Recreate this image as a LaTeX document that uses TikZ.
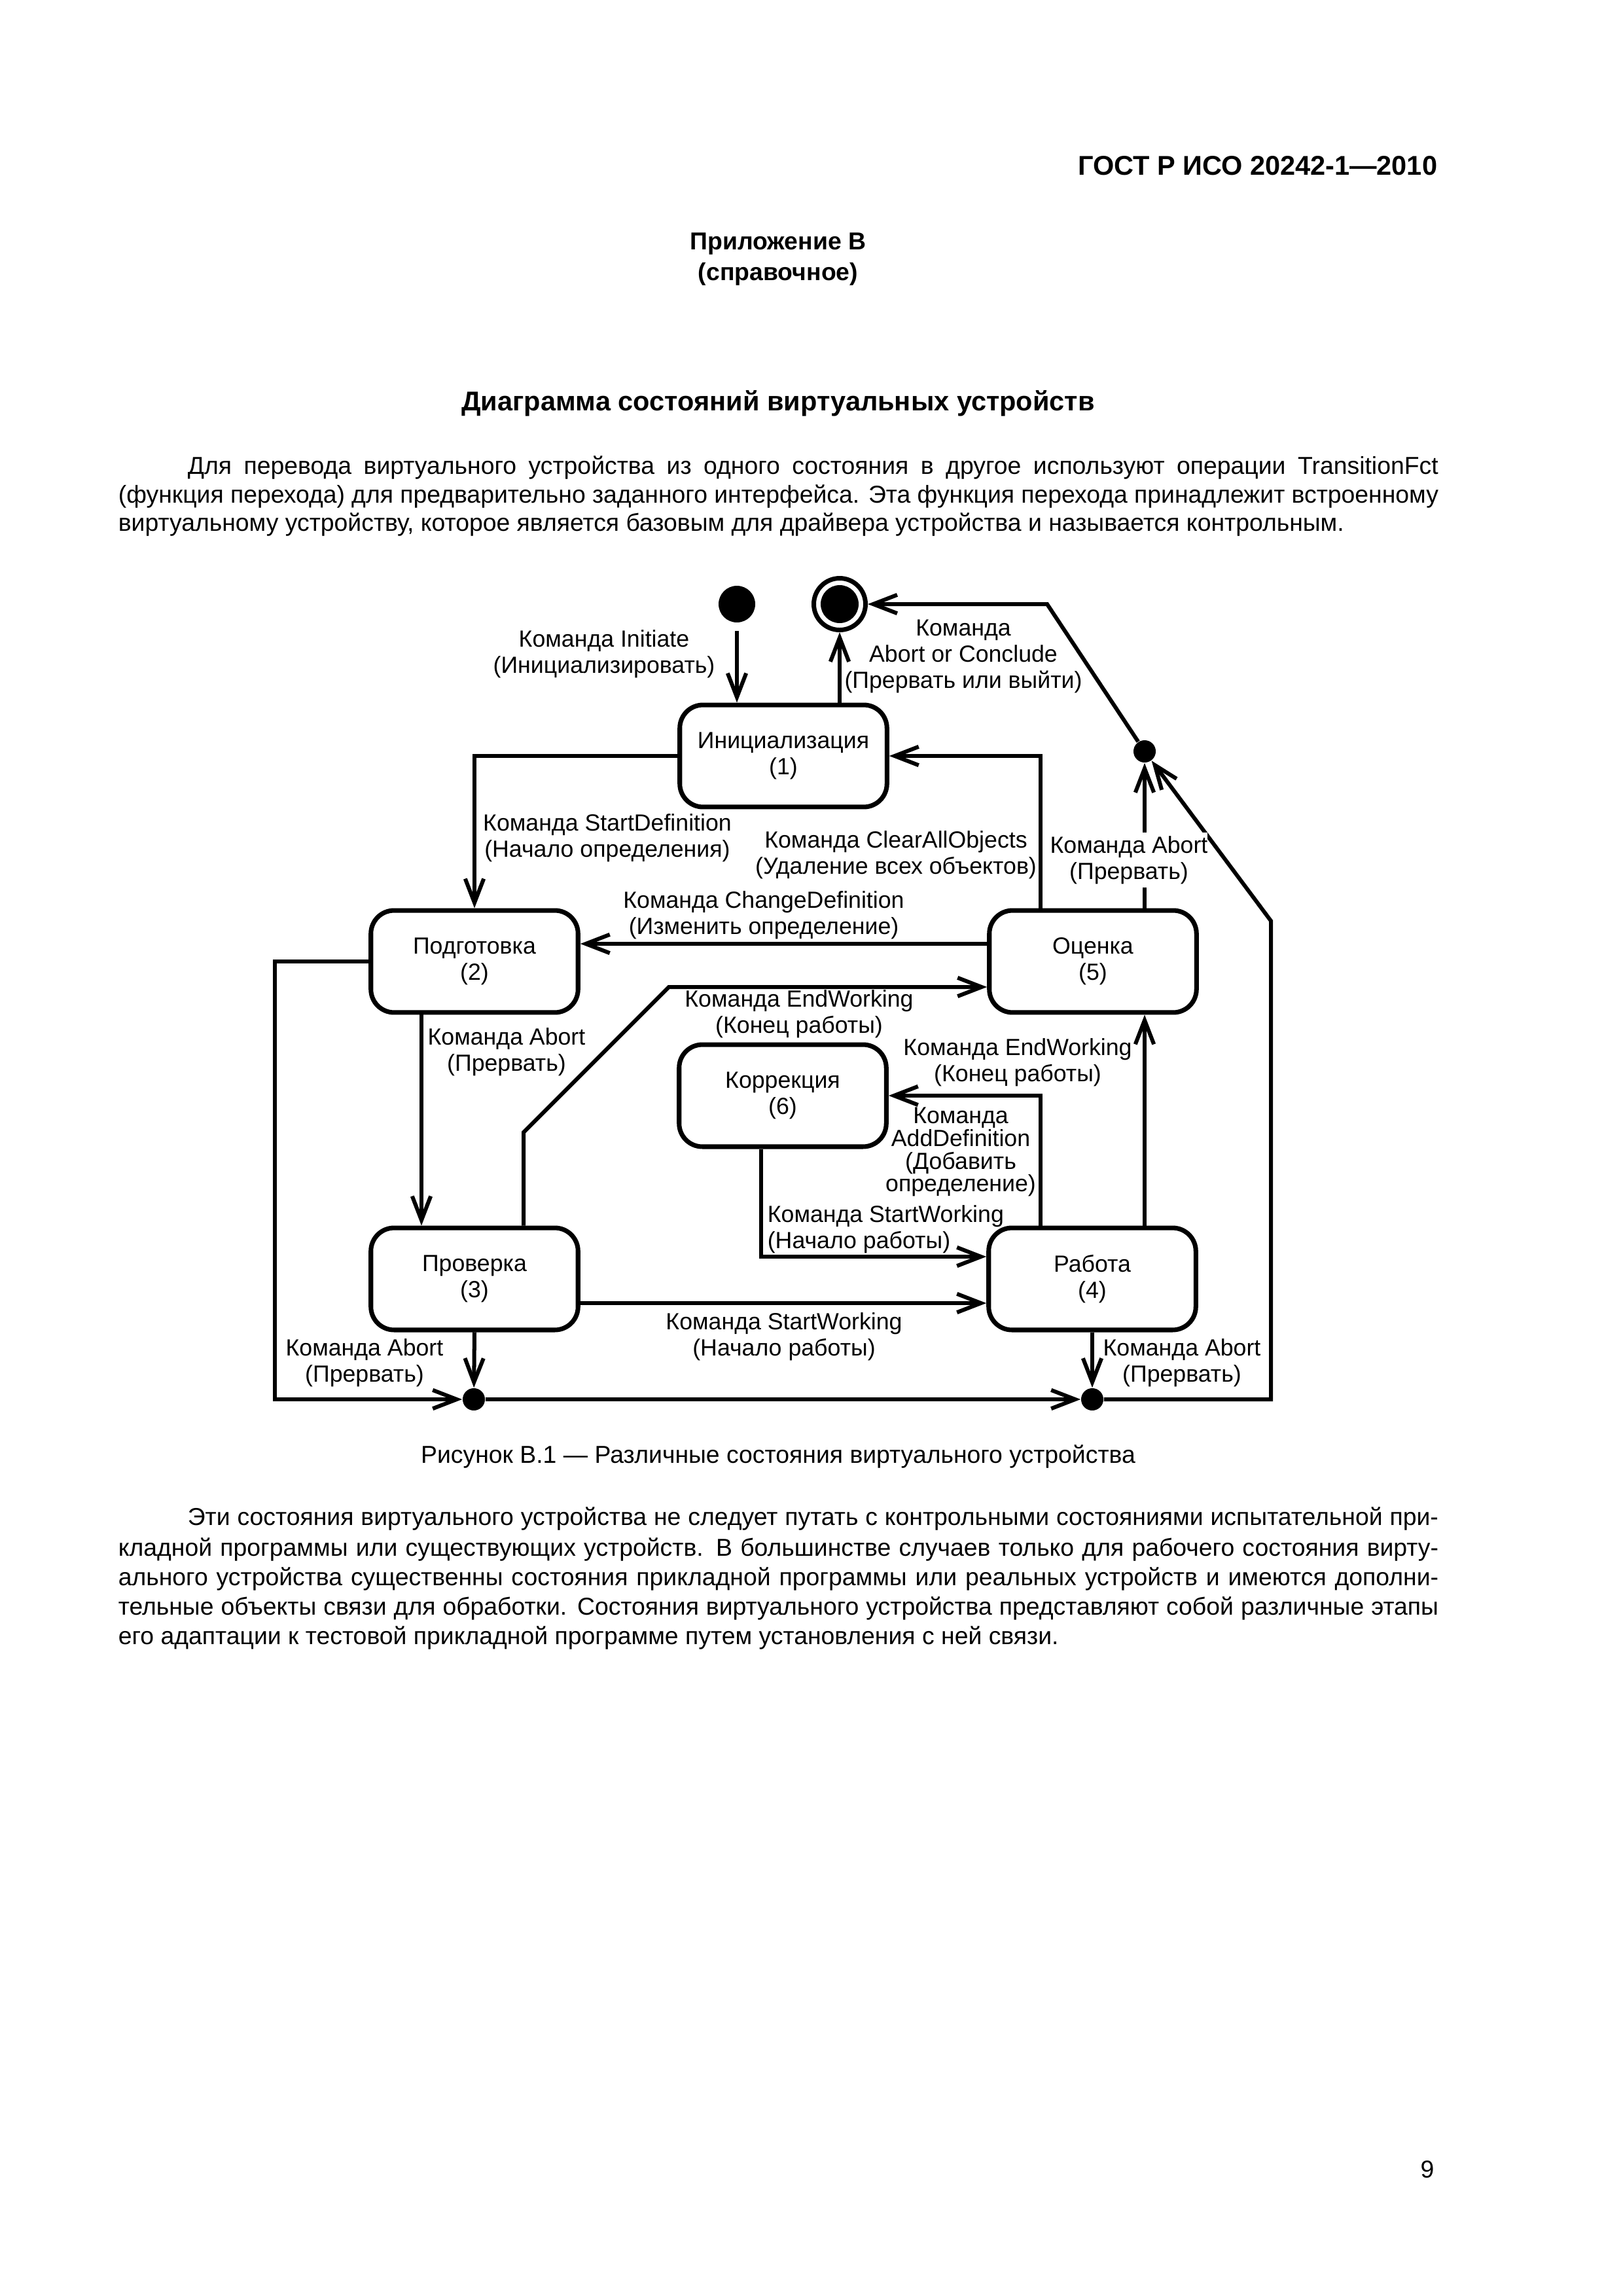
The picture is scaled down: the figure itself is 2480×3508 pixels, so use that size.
\documentclass[tikz,border=0pt]{standalone}
\usepackage{fontspec}
\setmainfont{Liberation Sans}
\usetikzlibrary{arrows.meta}
\newcommand\labfont{\fontsize{8.6}{9.6}\selectfont}
\newcommand\bodyfont{\fontsize{9}{11}\selectfont}
\tikzset{
  statebox/.style={draw, line width=1.7pt, rounded corners=3mm, minimum width=26.8mm, minimum height=13.2mm, align=center, inner sep=0pt, font=\labfont},
  conn/.style={line width=1.45pt, -{Straight Barb[length=3.1mm,width=2.4mm]}},
  lbl/.style={align=center, inner sep=0pt, font=\labfont},
  jdot/.style={circle, fill, inner sep=0pt, minimum size=2.88mm},
  txt/.style={anchor=west, inner sep=0pt, font=\bodyfont},
}
\begin{document}
\begin{tikzpicture}[x=0.0846774mm,y=-0.0846774mm]
\fill[white] (0,0) rectangle (2480,3508);
\useasboundingbox (0,0) rectangle (2480,3508);

% page texts
\node[anchor=east, inner sep=0pt, font=\bfseries\fontsize{10}{12}\selectfont] (hdr) at (2197,253) {ГОСТ Р ИСО 20242-1—2010};
\node[inner sep=0pt, font=\bfseries\bodyfont] (app1) at (1189,373) {Приложение В};
\node[inner sep=0pt, font=\bfseries\bodyfont] (app2) at (1189,419) {(справочное)};
\node[inner sep=0pt, font=\bfseries\fontsize{10}{12}\selectfont] (ttl) at (1189,616) {Диаграмма состояний виртуальных устройств};

\node[txt] (p1a) at (286,715) {\makebox[161.8mm][s]{Для перевода виртуального устройства из одного состояния в другое используют операции TransitionFct}};
\node[txt] (p1b) at (180,759) {\makebox[170.8mm][s]{(функция перехода) для предварительно заданного интерфейса. Эта функция перехода принадлежит встроенному}};
\node[txt] (p1c) at (180,802) {виртуальному устройству, которое является базовым для драйвера устройства и называется контрольным.};

\node[inner sep=0pt, font=\bodyfont] (cap) at (1189,2225) {Рисунок В.1 — Различные состояния виртуального устройства};

\node[txt] (p2a) at (286,2320) {\makebox[161.8mm][s]{Эти состояния виртуального устройства не следует путать с контрольными состояниями испытательной при-}};
\node[txt] (p2b) at (180,2367) {\makebox[170.8mm][s]{кладной программы или существующих устройств. В большинстве случаев только для рабочего состояния вирту-}};
\node[txt] (p2c) at (180,2412) {\makebox[170.8mm][s]{ального устройства существенны состояния прикладной программы или реальных устройств и имеются дополни-}};
\node[txt] (p2d) at (180,2457) {\makebox[170.8mm][s]{тельные объекты связи для обработки. Состояния виртуального устройства представляют собой различные этапы}};
\node[txt] (p2e) at (180,2502) {его адаптации к тестовой прикладной программе путем установления с ней связи.};

\node[inner sep=0pt, font=\bodyfont] (pnum) at (2181,3315) {9};

% states
\node[statebox] (b1) at (1197,1155) {Инициализация\\(1)};
\node[statebox] (b2) at (725,1469) {Подготовка\\(2)};
\node[statebox] (b5) at (1670,1469) {Оценка\\(5)};
\node[statebox] (b6) at (1196,1674) {Коррекция\\(6)};
\node[statebox] (b3) at (725,1954) {Проверка\\(3)};
\node[statebox] (b4) at (1669,1954) {Работа\\(4)};

\node[jdot, minimum size=4.74mm] (ini) at (1126,923) {};
\node[circle, draw, line width=0.59mm, minimum size=6.69mm, inner sep=0pt] (fin) at (1283,923) {};
\node[jdot, minimum size=4.91mm] (fincore) at (fin) {};
\node[jdot] (sd) at (1749,1148) {};
\node[jdot] (d1) at (724,2138) {};
\node[jdot] (d2) at (1669,2138) {};

% helper coordinates
\coordinate (xA) at (1590,0);
\coordinate (xB) at (1749,0);
\coordinate (xC) at (644,0);
\coordinate (xD) at (800,0);
\coordinate (xE) at (1163,0);
\coordinate (yCD) at (0,1442);
\coordinate (ySW) at (0,1920);
\coordinate (ySW2) at (0,1991);
\coordinate (k1) at (1600,923);
\coordinate (k2) at (420,2138);
\coordinate (k3) at (800,1730);
\coordinate (k4) at (1022,1508);
\coordinate (k5) at (1942,2138);
\coordinate (k6) at (1942,1407);

% connectors
\draw[conn, shorten <=1mm] (ini) -- (b1.north -| ini);
\draw[conn] (b1.north -| fin) -- (fin);
\draw[conn] (b1.west) -| (b2.north);
\draw[conn] (b5.north -| xA) |- (b1.east);
\draw[conn] (b5.north -| xB) -- (sd);
\draw[conn] (sd) -- (k1) -- (fin);
\draw[conn] (b5.west |- yCD) -- (b2.east |- yCD);
\draw[conn] (b2.west) -| (k2) -- (d1);
\draw[conn] (b2.south -| xC) -- (b3.north -| xC);
\draw[conn] (b3.north -| xD) -- (k3) -- (k4) -- (b5.west |- k4);
\draw[conn] (b4.north -| xA) |- (b6.east);
\draw[conn] (b4.north -| xB) -- (b5.south -| xB);
\draw[conn] (b6.south -| xE) |- (b4.west |- ySW);
\draw[conn] (b3.east |- ySW2) -- (b4.west |- ySW2);
\draw[conn] (b3.south) -- (d1);
\draw[conn] (b4.south) -- (d2);
\draw[conn] (d1) -- (d2);
\draw[conn] (d2) -- (k5) -- (k6) -- (sd);

% labels
\node[lbl] (lInit) at (923,999) {Команда Initiate\\(Инициализировать)};
\node[lbl] (lConc) at (1472,1003) {Команда\\Abort or Conclude\\(Прервать или выйти)};
\node[lbl] (lSD) at (928,1280) {Команда StartDefinition\\(Начало определения)};
\node[lbl] (lCAO) at (1369,1306) {Команда ClearAllObjects\\(Удаление всех объектов)};
\node[lbl, fill=white, inner ysep=0.5mm] (lAb5) at (1725,1314) {Команда Abort\\(Прервать)};
\node[lbl] (lCD) at (1167,1398) {Команда ChangeDefinition\\(Изменить определение)};
\node[lbl] (lEW1) at (1221,1549) {Команда EndWorking\\(Конец работы)};
\node[lbl] (lAb2) at (774,1607) {Команда Abort\\(Прервать)};
\node[lbl] (lEW2) at (1555,1623) {Команда EndWorking\\(Конец работы)};
\node[lbl, font=\fontsize{8.6}{8.4}\selectfont] (lAD) at (1468,1760) {Команда\\AddDefinition\\(Добавить\\определение)};
\node[lbl, anchor=west, align=left] (lSW1) at (1172,1878) {Команда StartWorking\\(Начало работы)};
\node[lbl] (lSW2) at (1198,2042) {Команда StartWorking\\(Начало работы)};
\node[lbl] (lAb3) at (557,2082) {Команда Abort\\(Прервать)};
\node[lbl] (lAb4) at (1806,2082) {Команда Abort\\(Прервать)};
\end{tikzpicture}
\end{document}
